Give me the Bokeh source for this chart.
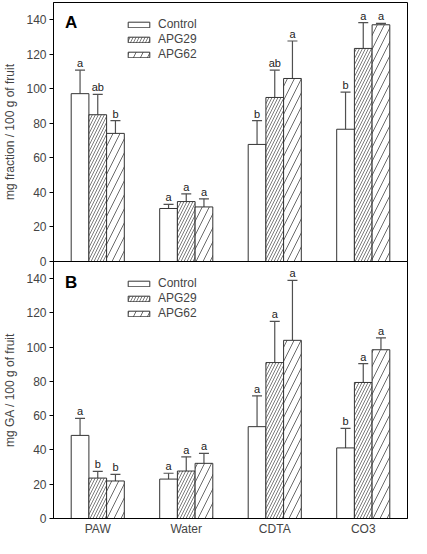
from bokeh.plotting import figure
from bokeh.models import (ColumnDataSource, Whisker, TeeHead, Legend, LegendItem,
                          Label, FixedTicker, Range1d)
from bokeh.layouts import column
from bokeh.embed import file_html
from bokeh.resources import INLINE
from bokeh.core.properties import value

categories = ["PAW", "Water", "CDTA", "CO3"]
series = ["Control", "APG29", "APG62"]
y_ticks = [0, 20, 40, 60, 80, 100, 120, 140]

# Panel A: mg fraction / 100 g of fruit
a_control = [97.2, 30.7, 67.8, 76.6]
a_control_err = [13.6, 2.4, 13.8, 21.5]
a_apg29 = [85.0, 34.7, 95.0, 123.4]
a_apg29_err = [11.8, 4.5, 15.8, 15.0]
a_apg62 = [74.2, 31.6, 106.0, 137.1]
a_apg62_err = [7.4, 4.7, 21.7, 0.8]
a_control_sig = ["a", "a", "b", "b"]
a_apg29_sig = ["ab", "a", "ab", "a"]
a_apg62_sig = ["b", "a", "a", "a"]

# Panel B: mg GA / 100 g of fruit
b_control = [48.5, 23.0, 53.6, 41.2]
b_control_err = [9.9, 3.4, 18.0, 11.4]
b_apg29 = [23.6, 27.7, 91.0, 79.4]
b_apg29_err = [3.9, 8.3, 24.0, 11.0]
b_apg62 = [21.9, 32.2, 104.0, 98.5]
b_apg62_err = [3.8, 5.8, 35.0, 6.9]
b_control_sig = ["a", "a", "a", "b"]
b_apg29_sig = ["b", "a", "a", "a"]
b_apg62_sig = ["b", "a", "a", "a"]

FONT = "Liberation Sans"
BAR_W = 0.2
OFFSETS = [-0.2, 0.0, 0.2]
STYLES = [
    dict(fill_color="white", hatch_pattern=None),
    dict(fill_color="white", hatch_pattern="/", hatch_scale=6, hatch_weight=0.7, hatch_color="#444444"),
    dict(fill_color="white", hatch_pattern="/", hatch_scale=14, hatch_weight=0.8, hatch_color="#444444"),
]
OVERLAP = 7


def make_panel(letter, ylabel, data, show_x, height, top_border, bottom_border,
               legend_xy, letter_y, transparent):
    p = figure(width=411, height=height, output_backend="svg", toolbar_location=None,
               x_range=Range1d(0, 4), y_range=Range1d(0, 150),
               min_border_left=48, min_border_right=4,
               min_border_top=top_border, min_border_bottom=bottom_border,
               background_fill_color="white", border_fill_color="white")
    if transparent:
        p.background_fill_alpha = 0
        p.border_fill_alpha = 0
    p.outline_line_color = "black"
    p.outline_line_width = 1
    p.xgrid.visible = False
    p.ygrid.visible = False

    p.yaxis.ticker = FixedTicker(ticks=y_ticks)
    p.yaxis.axis_label = ylabel
    p.yaxis.axis_label_text_font = FONT
    p.yaxis.axis_label_text_font_style = "normal"
    p.yaxis.axis_label_text_font_size = "12px"
    p.yaxis.axis_label_standoff = 6
    p.yaxis.major_label_text_font = FONT
    p.yaxis.major_label_text_font_size = "12px"
    p.yaxis.major_label_standoff = 3
    p.yaxis.major_tick_out = 4
    p.yaxis.major_tick_in = 0
    p.yaxis.minor_tick_line_color = None
    p.yaxis.axis_line_color = "black"

    centers = [i + 0.5 for i in range(len(categories))]
    p.xaxis.ticker = FixedTicker(ticks=centers)
    p.xaxis.major_label_overrides = {c: n for c, n in zip(centers, categories)}
    p.xaxis.major_label_text_font = FONT
    p.xaxis.major_label_text_font_size = "12px"
    p.xaxis.major_tick_line_color = None
    p.xaxis.major_tick_out = 0
    p.xaxis.major_tick_in = 0
    p.xaxis.minor_tick_line_color = None
    p.xaxis.minor_tick_out = 0
    p.xaxis.major_label_standoff = 3
    p.xaxis.axis_label = None
    p.xaxis.axis_label_standoff = 0
    p.xaxis.axis_line_color = "black"
    p.xaxis.visible = show_x

    items = []
    for k, (vals, errs, sigs) in enumerate(data):
        xs = [c + OFFSETS[k] for c in centers]
        src = ColumnDataSource(dict(x=xs, top=vals, upper=[v + e for v, e in zip(vals, errs)],
                                    sig=sigs))
        r = p.vbar(x="x", top="top", bottom=0, width=BAR_W, source=src,
                   line_color="#333333", line_width=1, **STYLES[k])
        items.append(LegendItem(label=series[k], renderers=[r]))
        w = Whisker(base="x", lower="top", upper="upper", source=src, dimension="height",
                    line_color="#505050", line_width=1.2, lower_head=None,
                    upper_head=TeeHead(size=10, line_color="#505050", line_width=1.2))
        p.add_layout(w)
        p.text(x="x", y="upper", text="sig", source=src, text_align="center",
               text_baseline="bottom", y_offset=-1, text_font=value(FONT),
               text_font_size="11px", text_color="#222222")

    legend = Legend(items=items, location=legend_xy, padding=0, spacing=1,
                    label_height=14, glyph_height=7, glyph_width=27, label_standoff=6,
                    label_text_font=FONT, label_text_font_size="12px",
                    border_line_color=None, background_fill_alpha=0)
    p.add_layout(legend)

    p.add_layout(Label(x=0.13, y=letter_y, text=letter, text_font=FONT, text_font_size="17px",
                       text_font_style="bold", text_color="black"))
    return p


FRAME_H = 259
pa = make_panel("A", "mg fraction / 100 g of fruit",
                [(a_control, a_control_err, a_control_sig),
                 (a_apg29, a_apg29_err, a_apg29_sig),
                 (a_apg62, a_apg62_err, a_apg62_sig)],
                show_x=False, height=2 + FRAME_H + OVERLAP, top_border=2,
                bottom_border=OVERLAP, legend_xy=(72, 200), letter_y=133, transparent=False)
pb = make_panel("B", "mg GA / 100 g of fruit",
                [(b_control, b_control_err, b_control_sig),
                 (b_apg29, b_apg29_err, b_apg29_sig),
                 (b_apg62, b_apg62_err, b_apg62_sig)],
                show_x=True, height=FRAME_H + 18, top_border=0, bottom_border=18,
                legend_xy=(72, 198), letter_y=132, transparent=True)
pb.margin = (-OVERLAP, 0, 0, 0)

layout = column(pa, pb, spacing=0)
open("out.html", "w").write(file_html(layout, INLINE))
